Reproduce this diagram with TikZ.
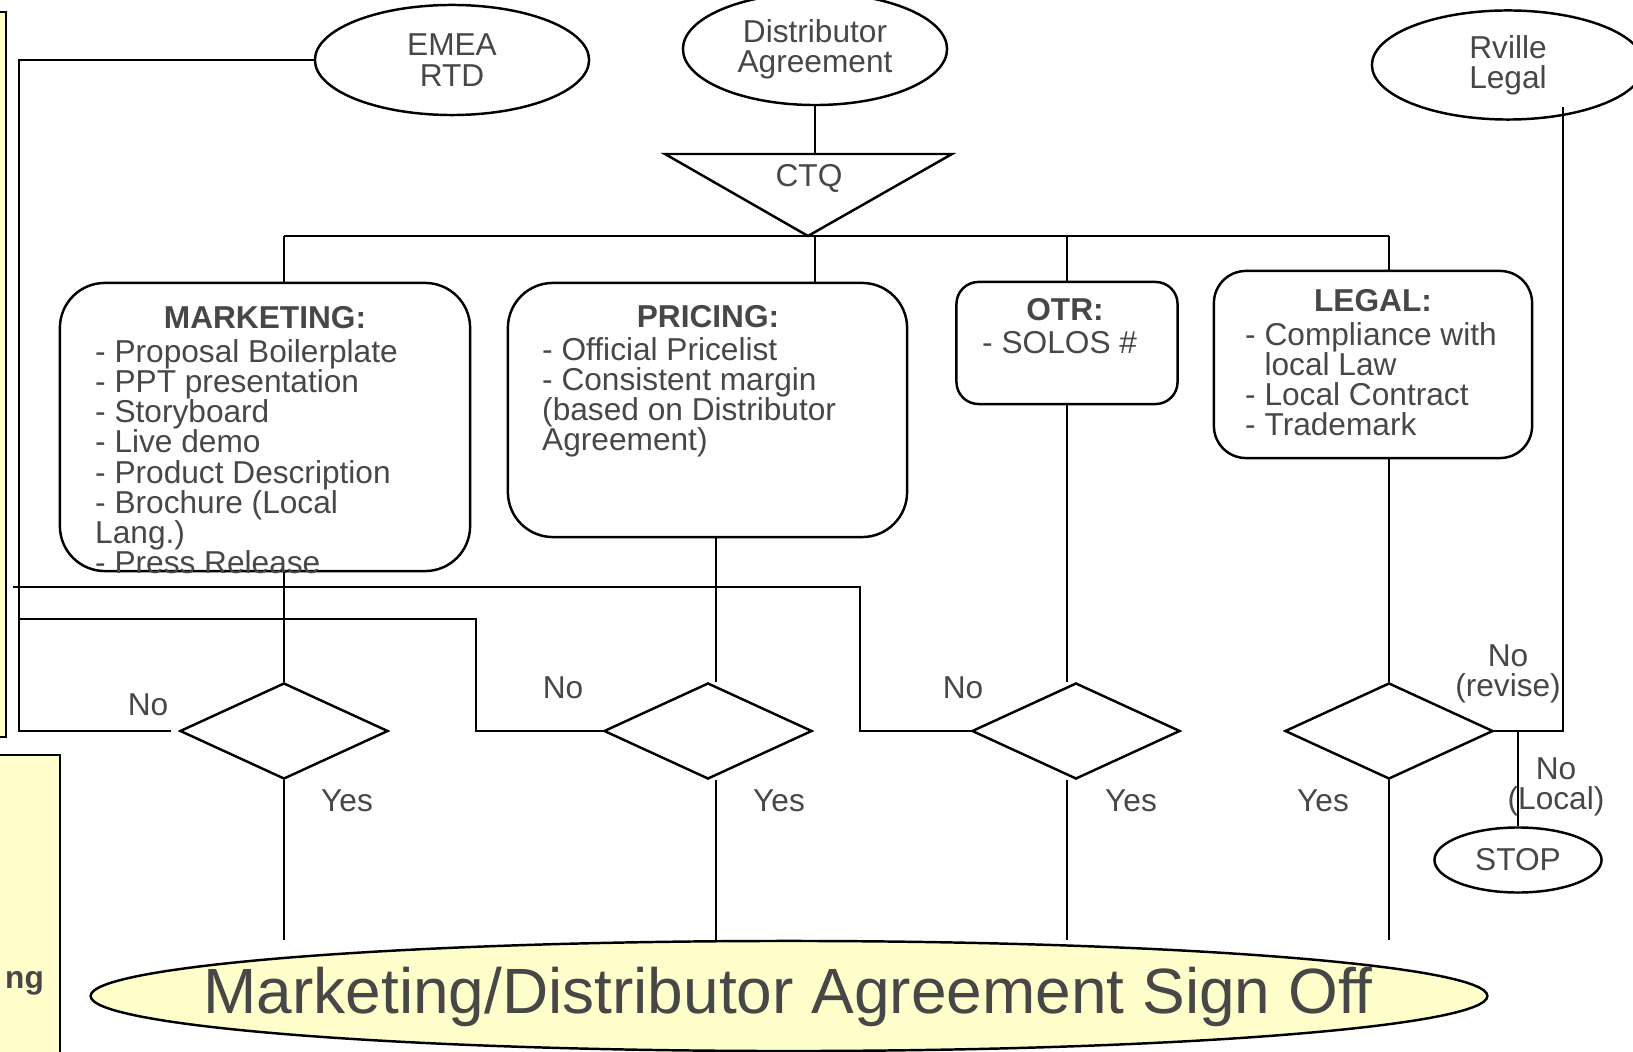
\documentclass[tikz,border=0pt]{standalone}
\usepackage{fontspec}
\setmainfont{Liberation Sans}
\usepackage{tikz}
\usetikzlibrary{shapes.geometric, positioning, calc}

\definecolor{ink}{HTML}{474747}
\definecolor{note}{HTML}{FFFFCC}

\begin{document}
\begin{tikzpicture}[
  x=0.01cm, y=-0.01cm,
  line width=0.7pt,
  every node/.style={text=ink, font=\fontsize{9}{8.6}\selectfont},
  oval/.style={draw, ellipse, inner sep=0pt, align=center, minimum width=#1},
  oval/.default=2.7cm,
  panel/.style={draw, rounded corners=#1, inner sep=0pt},
  panel/.default=0.45cm,
  head/.style={font=\fontsize{9}{8.6}\selectfont\bfseries},
  items/.style={anchor=north west, align=left, inner sep=0pt},
  check/.style={draw, diamond, inner sep=0pt, minimum width=2.08cm, minimum height=0.96cm},
  lbl/.style={align=center, inner sep=0pt},
]
  \useasboundingbox (0,0) rectangle (1633,1052);
  \clip (0,0) rectangle (1633,1052);

  % yellow side boxes
  \draw[fill=note, line width=0.5pt] (-5,12) rectangle (6,737);
  \draw[fill=note, line width=0.6pt] (-5,755) rectangle (60,1060);
  \node[anchor=base west, inner sep=0pt, font=\fontsize{9}{11}\selectfont\bfseries] (ngtxt) at (4,988) {ng};

  % sources
  \node[oval=2.74cm, minimum height=1.1cm] (emea) at (452,60) {EMEA\\RTD};
  \node[oval=2.64cm, minimum height=1.12cm] (dist) at (815,49) {Distributor\\Agreement};
  \node[oval=2.72cm, minimum height=1.09cm] (rvl) at (1508,65) {Rville\\Legal};

  % CTQ
  \coordinate (tl) at (665,154);
  \coordinate (tr) at (952,154);
  \coordinate (apex) at (808,236);
  \draw (tl) -- (tr) -- (apex) -- cycle;
  \node (ctq) at (809,178) {CTQ};

  % CTQ boxes
  \node[panel, minimum width=4.1cm, minimum height=2.88cm] (mkt) at (265,427) {};
  \node[panel, minimum width=3.99cm, minimum height=2.54cm] (pri) at (707.5,410) {};
  \node[panel=0.22cm, minimum width=2.21cm, minimum height=1.22cm] (otr) at (1067,343) {};
  \node[panel=0.32cm, minimum width=3.18cm, minimum height=1.87cm] (leg) at (1373,364.5) {};

  \node[head] (mkthead) at (265,318) {MARKETING:};
  \node[items] (mktlist) at (94,338) {- Proposal Boilerplate\\- PPT presentation\\- Storyboard\\- Live demo\\- Product Description\\- Brochure (Local\\Lang.)\\- Press Release};
  \node[head] (prihead) at (708,317) {PRICING:};
  \node[items] (prilist) at (541,336) {- Official Pricelist\\- Consistent margin\\(based on Distributor\\Agreement)};
  \node[head] (otrhead) at (1065,310) {OTR:};
  \node[items] (otrlist) at (981,330) {- SOLOS \#};
  \node[head] (leghead) at (1373,301) {LEGAL:};
  \node[items] (leglist) at (1244,321) {- Compliance with\\\phantom{- }local Law\\- Local Contract\\- Trademark};

  % checks
  \node[check] (dmk) at (284,731) {};
  \node[check] (dpr) at (708,731) {};
  \node[check] (dot) at (1076,731) {};
  \node[check] (dlg) at (1389,731) {};

  \node[oval=1.67cm, minimum height=0.65cm] (stop) at (1518,860) {STOP};
  \node[draw, ellipse, fill=note, minimum width=13.96cm, minimum height=1.1cm, inner sep=0pt] (signoff) at (789,996) {};
  \node[font=\fontsize{18.2}{20}\selectfont] (signtext) at (788,997) {Marketing/Distributor Agreement Sign Off};

  % feed lines
  \draw (dist.south) -- (dist.south |- tl);
  \draw (dmk |- apex) -- (dlg |- apex);
  \draw (dmk |- apex) -- (dmk |- mkt.north);
  \draw (dist.south |- apex) -- (dist.south |- pri.north);
  \draw (otr.north |- apex) -- (otr.north);
  \draw (dlg |- apex) -- (dlg |- leg.north);

  \coordinate (pcol) at (716,0);
  \draw (dmk |- mkt.south) -- (dmk.north);
  \draw (pcol |- pri.south) -- (pcol |- dpr.north);
  \draw (otr.south) -- (otr.south |- dot.north);
  \draw (dlg |- leg.south) -- (dlg.north);

  % yes
  \draw (dmk.south) -- (dmk |- signoff.north);
  \draw (pcol |- dpr.south) -- (pcol |- signoff.north);
  \draw (otr.south |- dot.south) -- (otr.south |- signoff.north);
  \draw (dlg.south) -- (dlg |- signoff.north);

  % no
  \coordinate (rail) at (19,731);
  \draw ([xshift=-0.08cm]dmk.west) -- (rail) |- (emea.west);
  \coordinate (jp) at (476,619);
  \draw (rail |- jp) -- (jp) |- (dpr.west);
  \coordinate (jo0) at (13,587);
  \coordinate (jo) at (860,587);
  \draw (jo0) -- (jo) |- (dot.west);
  \coordinate (jr) at (1563,107);
  \draw (dlg.east) -| (jr);
  \draw (dlg.east -| stop) -- (stop.north);

  \node (no1) at (148,705) {No};
  \node (no2) at (563,688) {No};
  \node (no3) at (963,688) {No};
  \node[lbl] (no4) at (1508,674) {No\\(revise)};
  \node[lbl] (no5) at (1556,787) {No\\(Local)};
  \node (yes1) at (347,801) {Yes};
  \node (yes2) at (779,801) {Yes};
  \node (yes3) at (1131,801) {Yes};
  \node (yes4) at (1323,801) {Yes};
\end{tikzpicture}
\end{document}
